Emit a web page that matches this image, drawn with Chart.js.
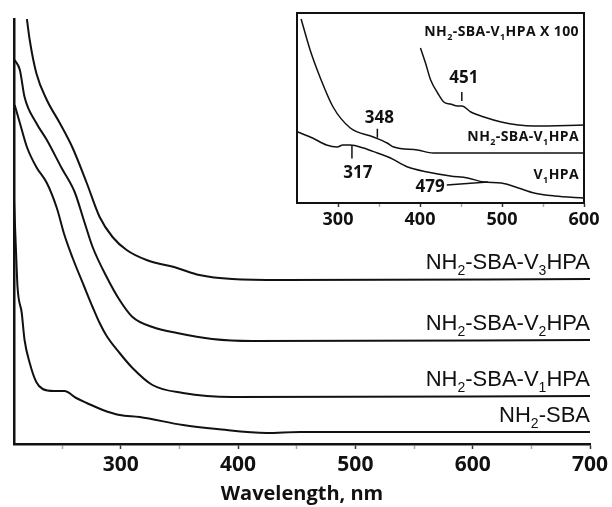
<!DOCTYPE html>
<html>
<head>
<meta charset="utf-8">
<script src="https://cdn.jsdelivr.net/npm/chart.js@4.4.1/dist/chart.umd.min.js"></script>
<style>
  body { margin: 0; background: #fff; }
  #wrap { position: relative; width: 612px; height: 507px; }
  #main { position: absolute; left: 0; top: 0; }
  #inset { position: absolute; left: 290px; top: 0; }
</style>
</head>
<body>
<div id="wrap">
  <canvas id="main" width="612" height="507"></canvas>
  <canvas id="inset" width="322" height="240"></canvas>
</div>
<script>
// main plot: offset UV-vis spectra, wavelength (nm) vs absorbance (a.u.)
const v3Wave = [220, 222.4, 228, 237, 248, 259, 271, 282, 293, 305, 322, 348, 367, 395, 438, 700]
const v3Abs = [4.25, 4.04, 3.71, 3.44, 3.21, 2.96, 2.61, 2.27, 2.07, 1.94, 1.84, 1.76, 1.69, 1.65, 1.64, 1.65]

const v2Wave = [209.6, 214, 218, 228, 237, 249.6, 260.7, 269, 276, 288, 299, 310, 327, 348, 378, 412, 700]
const v2Abs = [3.84, 3.74, 3.47, 3.21, 3.04, 2.76, 2.52, 2.22, 1.97, 1.67, 1.44, 1.27, 1.17, 1.11, 1.05, 1.03, 1.04]

const v1Wave = [209.6, 214, 220, 228, 237, 245.5, 252, 259, 269, 276, 282, 288, 299, 310, 327, 353, 395, 700]
const v1Abs = [3.39, 3.21, 2.97, 2.77, 2.61, 2.36, 2.09, 1.86, 1.57, 1.37, 1.21, 1.08, 0.91, 0.76, 0.59, 0.51, 0.47, 0.48]

const sbaWave = [209, 211, 212, 215.6, 218, 222.4, 228, 233.5, 243, 252, 262, 271, 284.7, 299, 316, 353, 382, 424.5, 452.6, 700]
const sbaAbs = [2.44, 1.84, 1.57, 1.31, 1.04, 0.81, 0.62, 0.55, 0.53, 0.53, 0.46, 0.41, 0.34, 0.29, 0.27, 0.19, 0.15, 0.11, 0.12, 0.12]

const mainNames = ['NH_2-SBA-V_3HPA', 'NH_2-SBA-V_2HPA', 'NH_2-SBA-V_1HPA', 'NH_2-SBA']
const mainTicks = [250, 300, 350, 400, 450, 500, 550, 600, 650, 700]

// inset
const x100Wave = [400.6, 406.7, 413, 421.5, 429, 437, 446, 451, 462, 478, 499, 520, 539, 600]
const x100Abs = [1.55, 1.40, 1.23, 1.10, 1.01, 0.99, 0.97, 0.97, 0.91, 0.86, 0.81, 0.78, 0.77, 0.78]

const insV1Wave = [255, 266, 278, 294, 315, 343, 360, 368, 397, 416, 450, 600]
const insV1Abs = [1.84, 1.53, 1.26, 0.96, 0.75, 0.66, 0.60, 0.56, 0.53, 0.50, 0.50, 0.50]

const hpaWave = [251, 269, 286, 299, 306, 315, 331, 348, 364, 385, 409, 437, 458, 478, 499, 520, 539, 564, 600]
const hpaAbs = [0.71, 0.65, 0.58, 0.56, 0.58, 0.58, 0.55, 0.50, 0.45, 0.36, 0.31, 0.27, 0.25, 0.21, 0.20, 0.15, 0.10, 0.07, 0.05]

const insetNames = ['NH_2-SBA-V_1HPA X 100', 'NH_2-SBA-V_1HPA', 'V_1HPA']
const insetTicks = [300, 350, 400, 450, 500, 550, 600]
const peakNm = [317, 348, 451, 479]

const INK = '#111'
const toPts = (w, a) => w.map((x, i) => ({ x, y: a[i] }))

function lineSet (w, a, width) {
  return {
    data: toPts(w, a),
    borderColor: INK,
    borderWidth: width,
    pointRadius: 0,
    cubicInterpolationMode: 'monotone',
    fill: false
  }
}

// text with single-digit subscripts written as _2
function drawRich (ctx, text, xRight, yMid, size, weight, family, spacing = 0) {
  const subSize = Math.round(size * 0.62)
  const segs = text.split(/_(\d)/).map((s, i) => ({ s, sub: i % 2 === 1 }))
  ctx.letterSpacing = spacing + 'px'
  let total = 0
  segs.forEach(seg => {
    ctx.font = `${weight} ${seg.sub ? subSize : size}px ${family}`
    seg.w = ctx.measureText(seg.s).width
    total += seg.w
  })
  let x = xRight - total
  ctx.textAlign = 'left'
  ctx.textBaseline = 'middle'
  ctx.fillStyle = INK
  segs.forEach(seg => {
    ctx.font = `${weight} ${seg.sub ? subSize : size}px ${family}`
    ctx.fillText(seg.s, x, seg.sub ? yMid + size * 0.38 : yMid)
    x += seg.w
  })
  ctx.letterSpacing = '0px'
}

function valueAt (w, a, nm) {
  for (let i = 1; i < w.length; i++) {
    if (nm <= w[i]) {
      const t = (nm - w[i - 1]) / (w[i] - w[i - 1])
      return a[i - 1] + t * (a[i] - a[i - 1])
    }
  }
  return a[a.length - 1]
}

const mainLabels = {
  id: 'mainLabels',
  afterDatasetsDraw (chart) {
    const { ctx, scales: { x, y } } = chart
    ctx.save()
    chart.data.datasets.forEach((ds, i) => {
      const last = ds.data[ds.data.length - 1].y
      drawRich(ctx, mainNames[i], x.right, y.getPixelForValue(last) - 16, 22, 'normal', '"Liberation Sans", Arial, sans-serif')
    })
    ctx.restore()
  }
}

new Chart(document.getElementById('main'), {
  type: 'line',
  data: {
    datasets: [
      lineSet(v3Wave, v3Abs, 2),
      lineSet(v2Wave, v2Abs, 2),
      lineSet(v1Wave, v1Abs, 2),
      lineSet(sbaWave, sbaAbs, 2)
    ]
  },
  options: {
    responsive: false,
    animation: false,
    layout: { padding: { left: 12, right: 22, top: 19, bottom: 0 } },
    plugins: { legend: { display: false }, tooltip: { enabled: false } },
    scales: {
      x: {
        type: 'linear',
        min: 209,
        max: 700,
        afterBuildTicks: s => { s.ticks = mainTicks.map(v => ({ value: v })) },
        afterFit: s => { s.height = 63 },
        ticks: {
          callback: v => (v % 100 === 0 ? String(v) : ''),
          autoSkip: false,
          maxRotation: 0,
          padding: 3,
          color: INK,
          font: { family: '"Open Sans", sans-serif', weight: 'bold', size: 21 }
        },
        grid: {
          drawOnChartArea: false,
          tickLength: 5,
          tickWidth: 1.5,
          tickColor: c => (c.tick && c.tick.value % 100 ? '#aaa' : '#333')
        },
        border: { color: INK, width: 2.5 },
        title: {
          display: true,
          text: 'Wavelength, nm',
          color: INK,
          padding: { top: 0, bottom: 1 },
          font: { family: '"Open Sans", sans-serif', weight: 'bold', size: 20 }
        }
      },
      y: {
        min: 0,
        max: 4.25,
        afterFit: s => { s.width = 2 },
        ticks: { display: false },
        grid: { display: false },
        border: { color: INK, width: 2.5 }
      }
    }
  },
  plugins: [mainLabels]
})

const insetDecor = {
  id: 'insetDecor',
  afterDatasetsDraw (chart) {
    const { ctx, chartArea: a, scales: { x, y } } = chart
    ctx.save()
    ctx.strokeStyle = INK
    ctx.lineWidth = 2
    ctx.strokeRect(a.left, a.top, a.right - a.left, a.bottom - a.top)

    const fam = '"Open Sans", sans-serif'
    // series names
    drawRich(ctx, insetNames[0], a.right - 5, a.top + 19, 14, 'bold', fam, 0.4)
    drawRich(ctx, insetNames[1], a.right - 5, y.getPixelForValue(insV1Abs[insV1Abs.length - 1]) - 16, 14, 'bold', fam, 0.4)
    drawRich(ctx, insetNames[2], a.right - 5, y.getPixelForValue(hpaAbs[hpaAbs.length - 1]) - 23, 14, 'bold', fam, 0.4)

    // peak markers
    ctx.font = `bold 17px ${fam}`
    ctx.fillStyle = INK
    ctx.textBaseline = 'middle'
    ctx.lineWidth = 1.5
    const line = (x1, y1, x2, y2) => {
      ctx.beginPath(); ctx.moveTo(x1, y1); ctx.lineTo(x2, y2); ctx.stroke()
    }
    peakNm.forEach((nm, i) => {
      const px = x.getPixelForValue(nm)
      let py
      ctx.textAlign = 'center'
      if (i === 0) {
        py = y.getPixelForValue(valueAt(hpaWave, hpaAbs, nm))
        line(px, py, px, py + 13)
        ctx.fillText(String(nm), px + 6, py + 28)
      } else if (i === 1) {
        py = y.getPixelForValue(valueAt(insV1Wave, insV1Abs, nm))
        line(px, py - 10, px, py - 1)
        ctx.fillText(String(nm), px + 2, py - 21)
      } else if (i === 2) {
        py = y.getPixelForValue(valueAt(x100Wave, x100Abs, nm))
        line(px, py - 14, px, py - 5)
        ctx.fillText(String(nm), px + 2, py - 28)
      } else {
        py = y.getPixelForValue(valueAt(hpaWave, hpaAbs, nm))
        line(px - 38, py + 3, px + 3, py)
        ctx.textAlign = 'right'
        ctx.fillText(String(nm), px - 40, py + 5)
      }
    })
    ctx.restore()
  }
}

new Chart(document.getElementById('inset'), {
  type: 'line',
  data: {
    datasets: [
      lineSet(x100Wave, x100Abs, 1.5),
      lineSet(insV1Wave, insV1Abs, 1.5),
      lineSet(hpaWave, hpaAbs, 1.5)
    ]
  },
  options: {
    responsive: false,
    animation: false,
    layout: { padding: { left: 7, right: 28, top: 13, bottom: 0 } },
    plugins: { legend: { display: false }, tooltip: { enabled: false } },
    scales: {
      x: {
        type: 'linear',
        min: 250,
        max: 600,
        afterBuildTicks: s => { s.ticks = insetTicks.map(v => ({ value: v })) },
        afterFit: s => { s.height = 37 },
        ticks: {
          callback: v => (v % 100 === 0 ? String(v) : ''),
          autoSkip: false,
          maxRotation: 0,
          padding: 2,
          color: INK,
          font: { family: '"Open Sans", sans-serif', weight: 'bold', size: 18 }
        },
        grid: {
          drawOnChartArea: false,
          tickLength: 4,
          tickWidth: 1.5,
          tickColor: c => (c.tick && c.tick.value % 100 ? '#aaa' : '#333')
        },
        border: { color: INK, width: 2 }
      },
      y: {
        display: false,
        min: 0,
        max: 1.9
      }
    }
  },
  plugins: [insetDecor]
})
</script>
</body>
</html>
